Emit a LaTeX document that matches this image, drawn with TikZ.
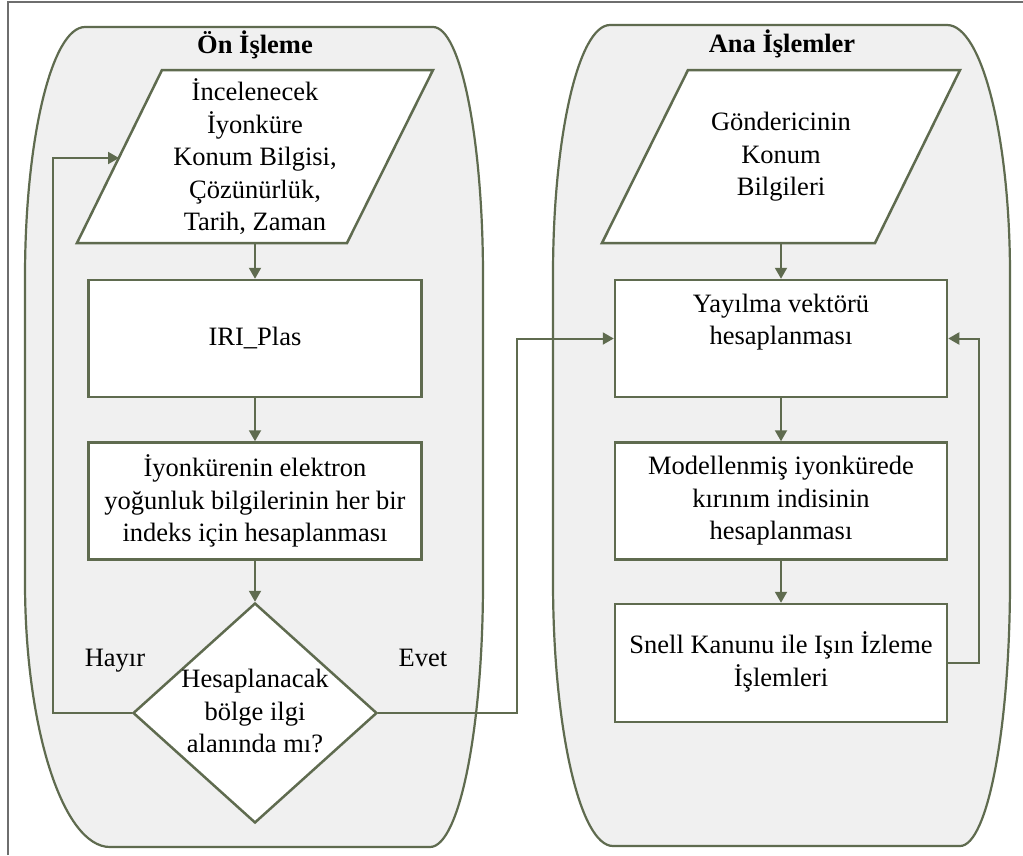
\documentclass[tikz,border=0pt]{standalone}
\usepackage{fontspec}
\setmainfont{Liberation Serif}
\usetikzlibrary{arrows.meta,shapes.geometric,calc}
\definecolor{ln}{HTML}{5F6B4F}
\definecolor{cfill}{HTML}{F0F0F0}
\definecolor{frm}{HTML}{6E6E6E}
\tikzset{
  cont/.style={draw=ln, line width=2.2pt, fill=cfill},
  boxn/.style={draw=ln, line width=2.5pt, fill=white, minimum width=333pt, minimum height=117pt, inner sep=0pt},
  shp/.style={draw=ln, line width=2.5pt, fill=white},
  dia/.style={diamond, draw=ln, line width=2.5pt, fill=white, minimum width=244pt, minimum height=220pt, inner sep=0pt},
  txt/.style={align=center, font=\fontsize{26.5}{32.5}\selectfont, inner sep=0pt},
  ttl/.style={font=\fontsize{26.5}{32}\selectfont\bfseries, inner sep=0pt, anchor=base},
  conn/.style={draw=ln, line width=2pt},
  arr/.style={conn, -{Triangle[length=11pt,width=12pt]}},
}
\begin{document}
\begin{tikzpicture}[x=1pt,y=1pt]
\useasboundingbox (0,0) rectangle (1023,-855);
\fill[white] (0,0) rectangle (1023,-855);
% outer frame
\draw[frm, line width=1.5pt] (8,-855) -- (8,-2) -- (1023,-2);

% containers
\draw[cont] (85,-27) -- (433,-27)
  arc[start angle=90,end angle=0,x radius=50,y radius=250]
  -- (483,-582)
  arc[start angle=0,end angle=-90,x radius=53,y radius=265]
  -- (110,-847)
  arc[start angle=270,end angle=180,x radius=85,y radius=265]
  -- (25,-277)
  arc[start angle=180,end angle=90,x radius=60,y radius=250] -- cycle;
\draw[cont] (610,-25) -- (947,-25)
  arc[start angle=90,end angle=0,x radius=63,y radius=250]
  -- (1010,-581)
  arc[start angle=0,end angle=-90,x radius=50,y radius=265]
  -- (613,-846)
  arc[start angle=270,end angle=180,x radius=60,y radius=265]
  -- (553,-275)
  arc[start angle=180,end angle=90,x radius=57,y radius=250] -- cycle;

\node[ttl] (ttlL) at (255,-53) {Ön İşleme};
\node[ttl] (ttlR) at (782,-52) {Ana İşlemler};

% left parallelogram
\coordinate (pLbl) at (77,-243);
\coordinate (pLbr) at (347,-243);
\coordinate (pLtr) at (433,-70);
\coordinate (pLtl) at (162,-70);
\coordinate (pLs) at (255,-243);
\coordinate (pLin) at (119,-158);
\draw[shp] (pLbl) -- (pLbr) -- (pLtr) -- (pLtl) -- cycle;
\node[txt] (inp) at (255,-157) {İncelenecek\\İyonküre\\Konum Bilgisi,\\Çözünürlük,\\Tarih, Zaman};

% right parallelogram
\coordinate (pRbl) at (602,-243);
\coordinate (pRbr) at (875,-243);
\coordinate (pRtr) at (960,-70);
\coordinate (pRtl) at (688,-70);
\coordinate (pRs) at (781,-243);
\draw[shp] (pRbl) -- (pRbr) -- (pRtr) -- (pRtl) -- cycle;
\node[txt] (gon) at (781,-157) {Göndericinin\\Konum\\Bilgileri};

% left boxes
\node[boxn] (iri) at (255,-338.5) {};
\node[txt] (iriT) at (iri) {IRI\_Plas};
\node[boxn] (elk) at (255,-501) {};
\node[txt] (elkT) at (elk) {İyonkürenin elektron\\yoğunluk bilgilerinin her bir\\indeks için hesaplanması};

% diamond
\node[dia] (d) at (255,-713) {};
\node[txt] (dT) at (255,-711) {Hesaplanacak\\bölge ilgi\\alanında mı?};
\node[txt] (hay) at (115,-661) {Hayır};
\node[txt] (evt) at (423,-658) {Evet};

% right boxes
\node[boxn, minimum width=332pt] (yay) at (781,-338.5) {};
\node[txt] (yayT) at (781,-322) {Yayılma vektörü\\hesaplanması};
\node[boxn, minimum width=332pt] (mod) at (781,-501) {};
\node[txt] (modT) at (mod) {Modellenmiş iyonkürede\\kırınım indisinin\\hesaplanması};
\node[boxn, minimum width=332pt, minimum height=118pt] (sn) at (781,-663) {};
\node[txt] (snT) at (781,-662) {Snell Kanunu ile Işın İzleme\\İşlemleri};

% connectors
\draw[arr] (pLs) -- (iri.north);
\draw[arr] (iri.south) -- (elk.north);
\draw[arr] (elk.south) -- (d.north);
\coordinate (hy) at (53,-713);
\draw[arr] (d.west) -- (hy) |- (pLin);
\coordinate (ev) at (517,-713);
\draw[arr] (d.east) -- (ev) |- (yay.west);
\draw[arr] (pRs) -- (yay.north);
\draw[arr] (yay.south) -- (mod.north);
\draw[arr] (mod.south) -- (sn.north);
\coordinate (fb) at (979,-663);
\draw[arr] (sn.east) -- (fb) |- (yay.east);
\end{tikzpicture}
\end{document}
